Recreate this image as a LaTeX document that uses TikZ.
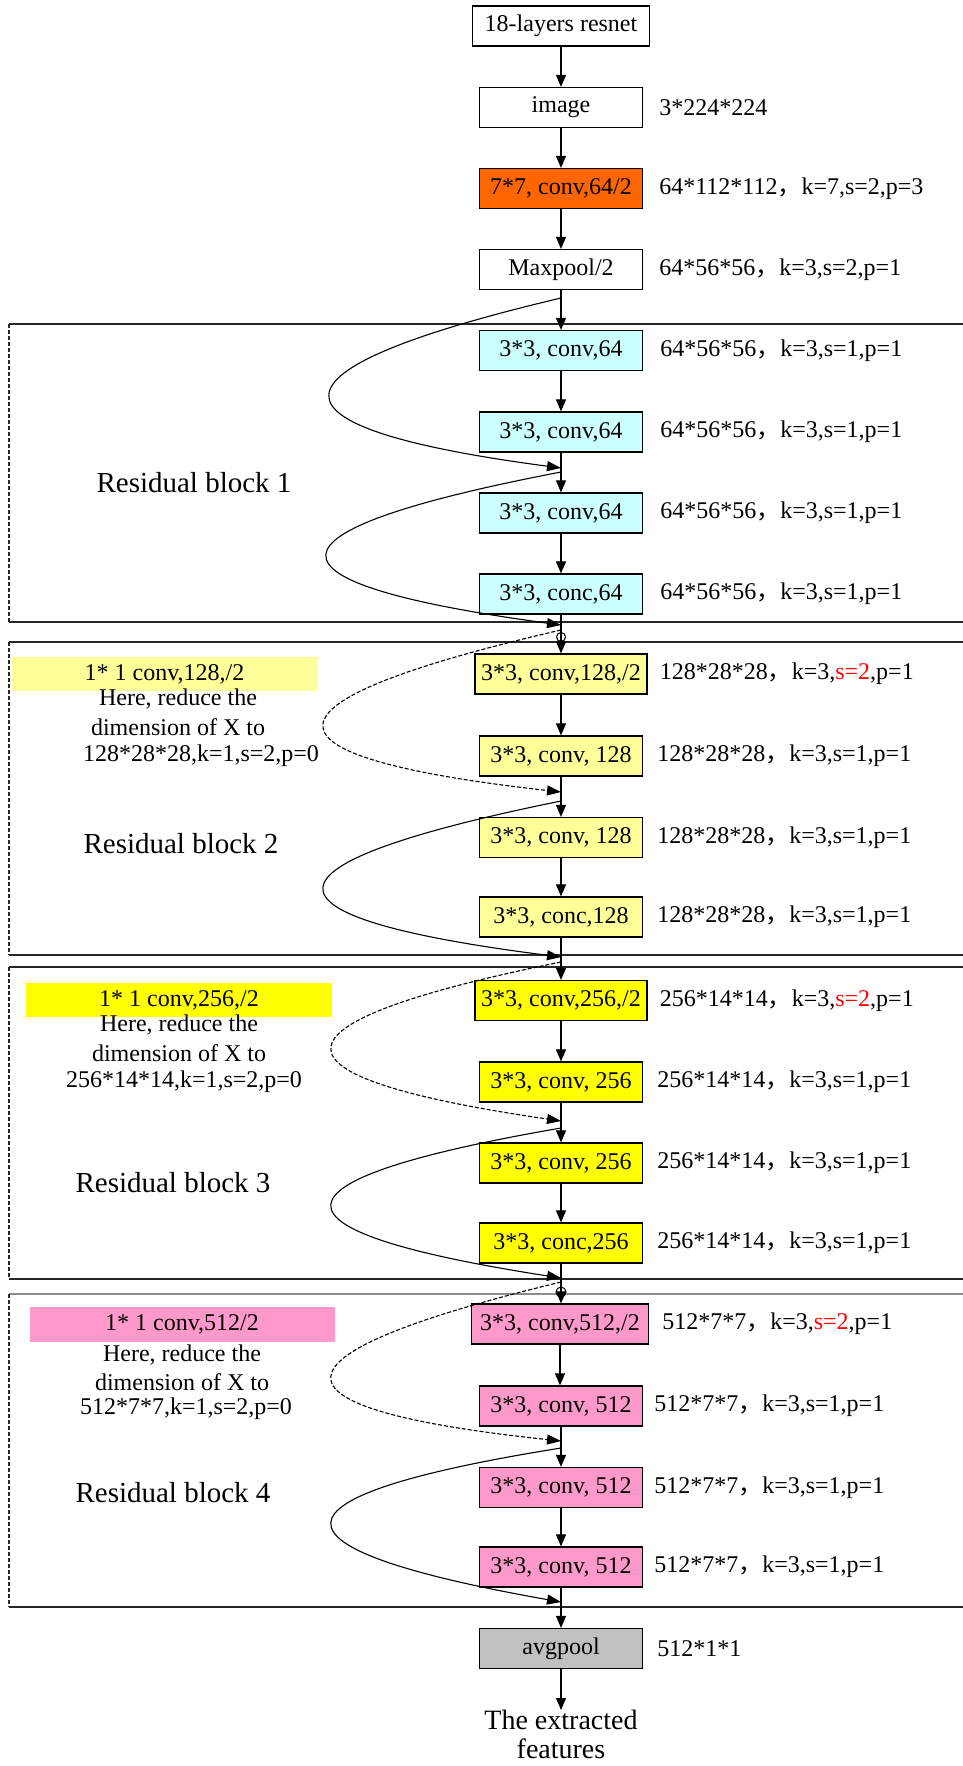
\documentclass[tikz,border=0pt]{standalone}
\usepackage{fontspec}
\setmainfont{Liberation Serif}
\newfontfamily\cjk{Noto Sans CJK SC}
\usetikzlibrary{arrows.meta,positioning}
\definecolor{cyanbox}{HTML}{CCFFFF}
\definecolor{ylight}{HTML}{FFFF99}
\definecolor{ystrong}{HTML}{FFFF00}
\definecolor{pinkbox}{HTML}{FF99CC}
\definecolor{orangebox}{HTML}{FF6600}
\definecolor{graybox}{HTML}{C0C0C0}
\newcommand{\fwc}{{\cjk ，}}
\begin{document}
\begin{tikzpicture}[x=1pt,y=-1pt,
  every node/.style={font=\fontsize{24}{28}\selectfont},
  layer/.style={draw=black,line width=1.2pt,minimum width=163pt,minimum height=40pt,inner sep=0pt},
  wide/.style={layer,minimum width=172pt},
  lab/.style={anchor=west,inner sep=0pt},
  note/.style={inner sep=0pt,minimum width=305pt,minimum height=34pt},
  txt/.style={inner sep=0pt},
  big/.style={inner sep=0pt,font=\fontsize{29}{31}\selectfont},
  flow/.style={line width=1.1pt,-{Triangle[width=10pt,length=12pt]}},
  skip/.style={line width=1.1pt,-{Triangle[width=10pt,length=14pt]}},
  proj/.style={skip,dash pattern=on 4pt off 2pt},
  frame/.style={line width=1.6pt,draw=black!85},
  ]
\useasboundingbox (0,0) rectangle (963,1766);

% ---------- stem ----------
\node[layer,minimum width=177pt] (top) at (561,26) {18-layers resnet};
\node[layer] (img) at (561,107.5) {image};
\node[layer,fill=orangebox] (c7) at (561,188.5) {7*7, conv,64/2};
\node[layer] (mp) at (561,269.5) {Maxpool/2};
\node[lab] at ([xshift=16pt]img.east) {3*224*224};
\node[lab] at ([xshift=16pt]c7.east) {64*112*112\fwc k=7,s=2,p=3};
\node[lab] at ([xshift=16pt]mp.east) {64*56*56\fwc k=3,s=2,p=1};

% ---------- block frames ----------
\draw[frame] (9,324) -- (963,324);
\draw[frame] (9,622) -- (963,622);
\draw[frame,dash pattern=on 4pt off 2pt] (9,324) -- (9,622);
\draw[frame] (9,642) -- (963,642);
\draw[frame] (9,955) -- (963,955);
\draw[frame,dash pattern=on 4pt off 2pt] (9,642) -- (9,955);
\draw[frame] (9,967) -- (963,967);
\draw[frame] (9,1279) -- (963,1279);
\draw[frame,dash pattern=on 4pt off 2pt] (9,967) -- (9,1279);
\draw[frame,draw=black!45] (9,1294) -- (963,1294);
\draw[frame] (9,1607) -- (963,1607);
\draw[frame,dash pattern=on 4pt off 2pt] (9,1294) -- (9,1607);

% ---------- block 1 ----------
\node[layer,fill=cyanbox] (b11) at (561,350.5) {3*3, conv,64};
\node[layer,fill=cyanbox] (b12) at (561,432) {3*3, conv,64};
\node[layer,fill=cyanbox] (b13) at (561,513) {3*3, conv,64};
\node[layer,fill=cyanbox] (b14) at (561,594) {3*3, conc,64};
\foreach \n in {b11,b12,b13,b14}
  \node[lab] at ([xshift=17pt]\n.east) {64*56*56\fwc k=3,s=1,p=1};
\node[big] (r1) at (194,483) {Residual block 1};

% ---------- block 2 ----------
\node[wide,fill=ylight] (b21) at (561,674) {3*3, conv,128,/2};
\node[layer,fill=ylight] (b22) at (561,756) {3*3, conv, 128};
\node[layer,fill=ylight] (b23) at (561,837.5) {3*3, conv, 128};
\node[layer,fill=ylight] (b24) at (561,917) {3*3, conc,128};
\node[lab] at ([xshift=12pt]b21.east) {128*28*28\fwc k=3,{\color{red}s=2},p=1};
\foreach \n in {b22,b23,b24}
  \node[lab] at ([xshift=14pt]\n.east) {128*28*28\fwc k=3,s=1,p=1};
\node[note,fill=ylight] (n2) at (164.5,674) {1* 1 conv,128,/2};
\node[txt] (n2a) at (178,699) {Here, reduce the};
\node[txt] (n2b) at (178,727) {dimension of X to};
\node[txt] (n2c) at (201,756) {128*28*28,k=1,s=2,p=0};
\node[big] (r2) at (181,844) {Residual block 2};

% ---------- block 3 ----------
\node[wide,fill=ystrong] (b31) at (561,1000.5) {3*3, conv,256,/2};
\node[layer,fill=ystrong] (b32) at (561,1082) {3*3, conv, 256};
\node[layer,fill=ystrong] (b33) at (561,1163) {3*3, conv, 256};
\node[layer,fill=ystrong] (b34) at (561,1243) {3*3, conc,256};
\node[lab] at ([xshift=12pt]b31.east) {256*14*14\fwc k=3,{\color{red}s=2},p=1};
\foreach \n in {b32,b33,b34}
  \node[lab] at ([xshift=14pt]\n.east) {256*14*14\fwc k=3,s=1,p=1};
\node[note,fill=ystrong,minimum width=306pt] (n3) at (179,1000) {1* 1 conv,256,/2};
\node[txt] (n3a) at (179,1025) {Here, reduce the};
\node[txt] (n3b) at (179,1053) {dimension of X to};
\node[txt] (n3c) at (184,1082) {256*14*14,k=1,s=2,p=0};
\node[big] (r3) at (173,1183) {Residual block 3};

% ---------- block 4 ----------
\node[layer,minimum width=177pt,fill=pinkbox] (b41) at (560,1324) {3*3, conv,512,/2};
\node[layer,fill=pinkbox] (b42) at (561,1406) {3*3, conv, 512};
\node[layer,fill=pinkbox] (b43) at (561,1487.5) {3*3, conv, 512};
\node[layer,fill=pinkbox] (b44) at (561,1567) {3*3, conv, 512};
\node[lab] at ([xshift=13pt]b41.east) {512*7*7\fwc k=3,{\color{red}s=2},p=1};
\foreach \n in {b42,b43,b44}
  \node[lab] at ([xshift=11pt]\n.east) {512*7*7\fwc k=3,s=1,p=1};
\node[note,fill=pinkbox,minimum height=35pt] (n4) at (182,1324.5) {1* 1 conv,512/2};
\node[txt] (n4a) at (182,1355) {Here, reduce the};
\node[txt] (n4b) at (182,1382) {dimension of X to};
\node[txt] (n4c) at (186,1409) {512*7*7,k=1,s=2,p=0};
\node[big] (r4) at (173,1493) {Residual block 4};

% ---------- head ----------
\node[layer,fill=graybox] (avg) at (561,1648.5) {avgpool};
\node[lab] at ([xshift=14pt]avg.east) {512*1*1};
\node[inner sep=0pt,font=\fontsize{28}{29}\selectfont,align=center,anchor=north] (out) at (561,1710) {The extracted\\features};

% ---------- main path ----------
\foreach \a/\b in {top/img,img/c7,c7/mp,mp/b11,b11/b12,b12/b13,b13/b14,b14/b21,
                   b21/b22,b22/b23,b23/b24,b24/b31,b31/b32,b32/b33,b33/b34,b34/b41,
                   b41/b42,b42/b43,b43/b44,b44/avg,avg/out}
  \draw[flow] (\a.south) -- (\a.south |- \b.north);

% ---------- shortcut connections ----------
\coordinate (sA) at (561,298);  \coordinate (eA) at (561,468);
\coordinate (sB) at (561,472);  \coordinate (eB) at (561,625);
\coordinate (sC) at (561,630);  \coordinate (eC) at (561,792);
\coordinate (sD) at (561,801);  \coordinate (eD) at (561,957);
\coordinate (sE) at (561,962);  \coordinate (eE) at (561,1121);
\coordinate (sF) at (561,1128); \coordinate (eF) at (561,1278);
\coordinate (sG) at (561,1282); \coordinate (eG) at (561,1441);
\coordinate (sH) at (561,1448); \coordinate (eH) at (561,1602);

\draw[skip] (sA) .. controls (253.7,370.7) and (253.7,427.3) .. (eA);
\draw[skip] (sB) .. controls (249.7,531.7) and (249.7,582.7) .. (eB);
\draw[proj] (sC) .. controls (245.7,702.7) and (245.7,756.7) .. (eC);
\draw[skip] (sD) .. controls (245.7,865) and (245.7,917) .. (eD);
\draw[proj] (sE) .. controls (256.3,1023.7) and (256.3,1076.7) .. (eE);
\draw[skip] (sF) .. controls (256.3,1180.7) and (256.3,1230.7) .. (eF);
\draw[proj] (sG) .. controls (256.3,1355.7) and (256.3,1408.7) .. (eG);
\draw[skip] (sH) .. controls (256.3,1496.7) and (256.3,1548) .. (eH);

% line-jump rings where the projection shortcuts leave the main path
\draw[line width=1pt] (561,637) circle[radius=4.5pt];
\draw[line width=1pt] (561,1292) circle[radius=5pt];
\end{tikzpicture}
\end{document}
